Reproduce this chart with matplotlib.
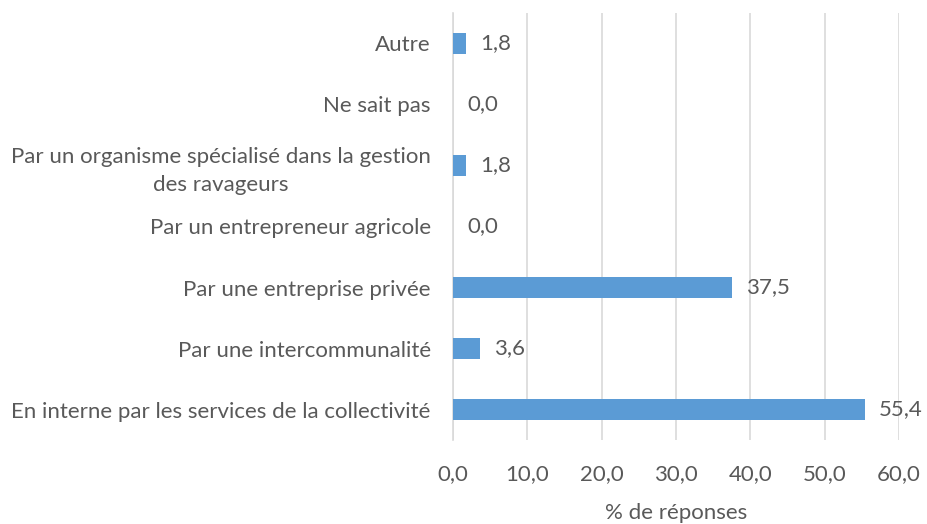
import numpy as np
import matplotlib.pyplot as plt

plt.rcParams['font.family'] = ['Lato', 'DejaVu Sans']

# Réponses, du bas vers le haut
categories = [
    "En interne par les services de la collectivité",
    "Par une intercommunalité",
    "Par une entreprise privée",
    "Par un entrepreneur agricole",
    "Par un organisme spécialisé dans la gestion\ndes ravageurs",
    "Ne sait pas",
    "Autre",
]
values = [55.4, 3.6, 37.5, 0.0, 1.8, 0.0, 1.8]
xticks = [0, 10, 20, 30, 40, 50, 60]

text_col = '#595959'
grid_col = '#d9d9d9'
fs = 16

fig = plt.figure(figsize=(9.27, 5.24), dpi=100)
ax = fig.add_axes([0.4887, 0.1603, 0.4811, 0.8149])

y = np.arange(len(categories))
ax.barh(y, values, height=0.35, color='#5b9bd5', zorder=3)

for yi, v in zip(y, values):
    ax.annotate(f"{v:.1f}".replace('.', ','), (v, yi), xytext=(10, 0),
                textcoords='offset points', va='center', ha='left',
                fontsize=fs, color=text_col)

ax.set_xlim(0, 60)
ax.set_ylim(-0.5, len(categories) - 0.5)
ax.set_xticks(xticks)
ax.set_xticklabels([f"{t:.1f}".replace('.', ',') for t in xticks])
ax.set_yticks(y)
ax.set_yticklabels(categories, multialignment='center', linespacing=1.45)
ax.tick_params(axis='both', length=0, labelsize=fs, labelcolor=text_col)
ax.tick_params(axis='y', pad=16)
ax.tick_params(axis='x', pad=17)

ax.xaxis.grid(True, color=grid_col, linewidth=1.2, zorder=0)
for s in ['top', 'right', 'bottom']:
    ax.spines[s].set_visible(False)
ax.spines['left'].set_color(grid_col)
ax.spines['left'].set_linewidth(1.2)

ax.set_xlabel('% de réponses', fontsize=fs, color=text_col, labelpad=14)

fig.savefig('out.png', dpi=100)
